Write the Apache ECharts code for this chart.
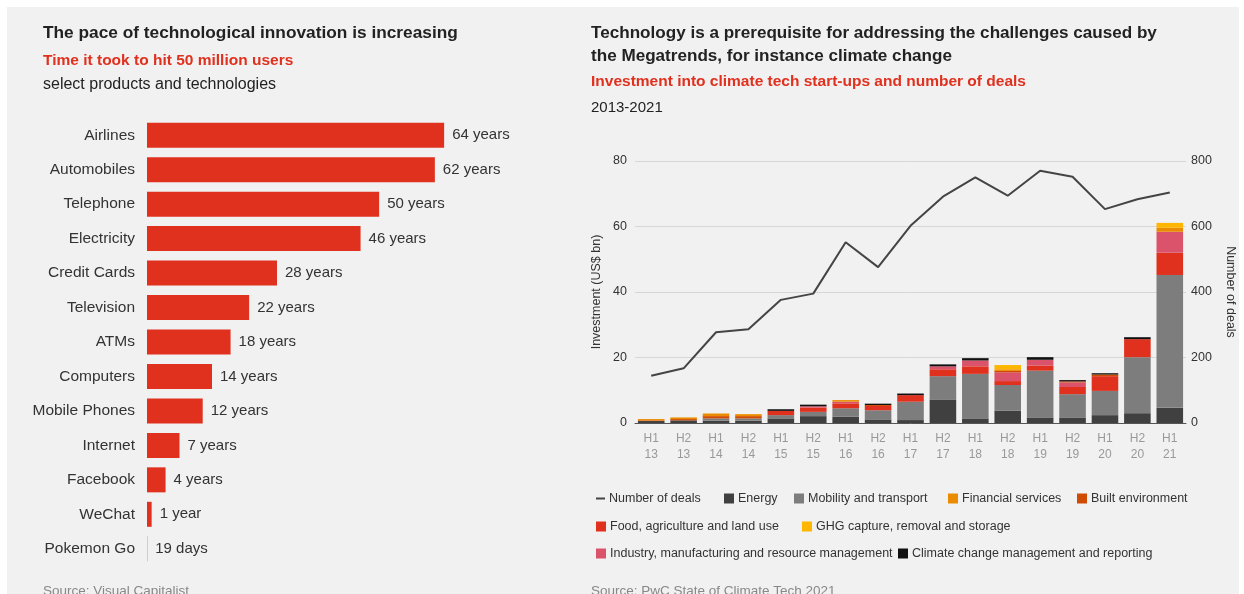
<!DOCTYPE html>
<html><head><meta charset="utf-8">
<script src="https://cdn.jsdelivr.net/npm/echarts@6/dist/echarts.min.js"></script>
<style>html,body{margin:0;padding:0;background:#fff;}#c{width:1244px;height:594px;}</style>
</head><body><div id="c"></div>
<script>
// ---------- Left chart data ----------
const products = ["Airlines","Automobiles","Telephone","Electricity","Credit Cards","Television","ATMs","Computers","Mobile Phones","Internet","Facebook","WeChat","Pokemon Go"];
const yearsTo50M = [64,62,50,46,28,22,18,14,12,7,4,1,0.052];
const yearsLabels = ["64 years","62 years","50 years","46 years","28 years","22 years","18 years","14 years","12 years","7 years","4 years","1 year","19 days"];

// ---------- Right chart data ----------
const periods = ["H1\n13","H2\n13","H1\n14","H2\n14","H1\n15","H2\n15","H1\n16","H2\n16","H1\n17","H2\n17","H1\n18","H2\n18","H1\n19","H2\n19","H1\n20","H2\n20","H1\n21"];
const energy    = [0.6,0.8,0.7,0.7,1.4,2.1,1.9,1.1,0.9,7.2,1.4,3.8,1.7,1.7,2.4,3.0,4.7];
const mobility  = [0,0,0.7,0.7,1.0,1.3,2.6,2.8,5.6,7.1,13.6,7.8,14.3,7.1,7.4,17.1,40.5];
const food      = [0,0,0,0,1.3,1.3,1.5,1.3,2.0,2.1,2.3,1.2,1.5,2.2,4.5,5.5,6.8];
const industry  = [0,0,0,0,0,0.4,0.5,0,0,0.9,1.8,2.7,1.8,1.4,0,0,6.4];
const built     = [0.2,0.4,0.7,0.7,0,0,0,0.3,0,0,0,0.4,0,0.3,0.5,0,0];
const financial = [0.4,0.5,0.8,0.6,0,0,0.5,0,0,0,0,0.5,0,0,0,0,1.2];
const ghg       = [0,0,0,0,0,0,0,0,0,0,0,1.3,0,0,0,0,1.5];
const climate   = [0,0,0,0,0.5,0.5,0,0.4,0.5,0.6,0.7,0,0.8,0.4,0.4,0.6,0];
const deals     = [144,167,277,286,376,395,552,476,602,691,750,694,770,752,653,683,704];
const leftTicks = [0,20,40,60,80];
const rightTicks = [0,200,400,600,800];

const FONT = '"Liberation Sans", Arial, sans-serif';
const chart = echarts.init(document.getElementById('c'), null, {renderer:'canvas'});

function stackSeries(name, data, color){
  return {name, type:'bar', stack:'inv', xAxisIndex:1, yAxisIndex:1, data,
    barCategoryGap:'18%', itemStyle:{color}, emphasis:{disabled:true}};
}
function lg(name, left, top, extra){
  return Object.assign({data:[name], left, top, selectedMode:false, itemWidth:10, itemHeight:10,
    icon:'rect', textStyle:{fontFamily:FONT, fontSize:12.5, color:'#333', padding:[0,0,0,-1]}}, extra||{});
}

chart.setOption({
  backgroundColor:'#ffffff',
  animation:false,
  graphic:[
    {type:'rect', left:7, top:7, shape:{width:1232, height:587}, style:{fill:'#f1f1f1'}, z:-10},
    {type:'text', left:43, top:25, style:{text:'The pace of technological innovation is increasing', font:'bold 17.3px '+FONT, fill:'#222'}},
    {type:'text', left:43, top:53, style:{text:'Time it took to hit 50 million users', font:'bold 15.5px '+FONT, fill:'#e0301e'}},
    {type:'text', left:43, top:77, style:{text:'select products and technologies', font:'16px '+FONT, fill:'#222'}},
    {type:'text', left:591, top:22, style:{text:'Technology is a prerequisite for addressing the challenges caused by\nthe Megatrends, for instance climate change', font:'bold 17.1px '+FONT, lineHeight:23, fill:'#222'}},
    {type:'text', left:591, top:74, style:{text:'Investment into climate tech start-ups and number of deals', font:'bold 15.5px '+FONT, fill:'#e0301e'}},
    {type:'text', left:591, top:100, style:{text:'2013-2021', font:'15px '+FONT, fill:'#222'}},
    {type:'text', left:43, top:584, style:{text:'Source: Visual Capitalist', font:'13.5px '+FONT, fill:'#888'}},
    {type:'text', left:591, top:584, style:{text:'Source: PwC State of Climate Tech 2021', font:'13.5px '+FONT, fill:'#888'}}
  ],
  legend:[
    lg('Number of deals', 591, 487, {itemWidth:9, itemHeight:2}),
    lg('Energy', 719, 487),
    lg('Mobility and transport', 789, 487),
    lg('Financial services', 943, 487),
    lg('Built environment', 1072, 487),
    lg('Food, agriculture and land use', 591, 515),
    lg('GHG capture, removal and storage', 797, 515),
    lg('Industry, manufacturing and resource management', 591, 542),
    lg('Climate change management and reporting', 893, 542)
  ],
  grid:[
    {left:147, top:118, width:325, height:448},
    {left:635, right:58, top:161, height:262}
  ],
  xAxis:[
    {gridIndex:0, type:'value', min:0, max:70, show:false},
    {gridIndex:1, type:'category', data:periods,
      axisLine:{lineStyle:{color:'#555', width:1}}, axisTick:{show:false},
      axisLabel:{color:'#999', fontFamily:FONT, fontSize:12, lineHeight:16, margin:8}}
  ],
  yAxis:[
    {gridIndex:0, type:'category', data:products, inverse:true,
      axisLine:{show:false}, axisTick:{show:false},
      axisLabel:{color:'#333', fontFamily:FONT, fontSize:15.5, margin:12}},
    {gridIndex:1, type:'value', min:leftTicks[0], max:leftTicks[leftTicks.length-1], interval:20,
      name:'Investment (US$ bn)', nameLocation:'middle', nameGap:32,
      nameTextStyle:{color:'#333', fontFamily:FONT, fontSize:12.5},
      axisLine:{show:false}, axisTick:{show:false},
      axisLabel:{color:'#333', fontFamily:FONT, fontSize:12.5, margin:8},
      splitLine:{lineStyle:{color:'#d6d6d6', width:1}}},
    {gridIndex:1, type:'value', position:'right', min:rightTicks[0], max:rightTicks[rightTicks.length-1], interval:200,
      name:'Number of deals', nameLocation:'middle', nameGap:38, nameRotate:-90,
      nameTextStyle:{color:'#333', fontFamily:FONT, fontSize:12.5},
      axisLine:{show:false}, axisTick:{show:false},
      axisLabel:{color:'#333', fontFamily:FONT, fontSize:12.5, margin:5},
      splitLine:{show:false}}
  ],
  series:[
    {type:'bar', xAxisIndex:0, yAxisIndex:0, data:yearsTo50M, barWidth:25,
      itemStyle:{color:'#e0301e'}, emphasis:{disabled:true},
      label:{show:true, position:'right', distance:8, color:'#333', fontFamily:FONT, fontSize:15,
        formatter:p=>yearsLabels[p.dataIndex]}},
    stackSeries('Energy', energy, '#404040'),
    stackSeries('Mobility and transport', mobility, '#7d7d7d'),
    stackSeries('Food, agriculture and land use', food, '#e0301e'),
    stackSeries('Industry, manufacturing and resource management', industry, '#db536a'),
    stackSeries('Built environment', built, '#d04a02'),
    stackSeries('Financial services', financial, '#eb8c00'),
    stackSeries('GHG capture, removal and storage', ghg, '#ffb600'),
    stackSeries('Climate change management and reporting', climate, '#111111'),
    {name:'Number of deals', type:'line', xAxisIndex:1, yAxisIndex:2, data:deals,
      symbol:'none', lineStyle:{color:'#444', width:2}, itemStyle:{color:'#444'}, emphasis:{disabled:true}}
  ]
});
</script></body></html>
